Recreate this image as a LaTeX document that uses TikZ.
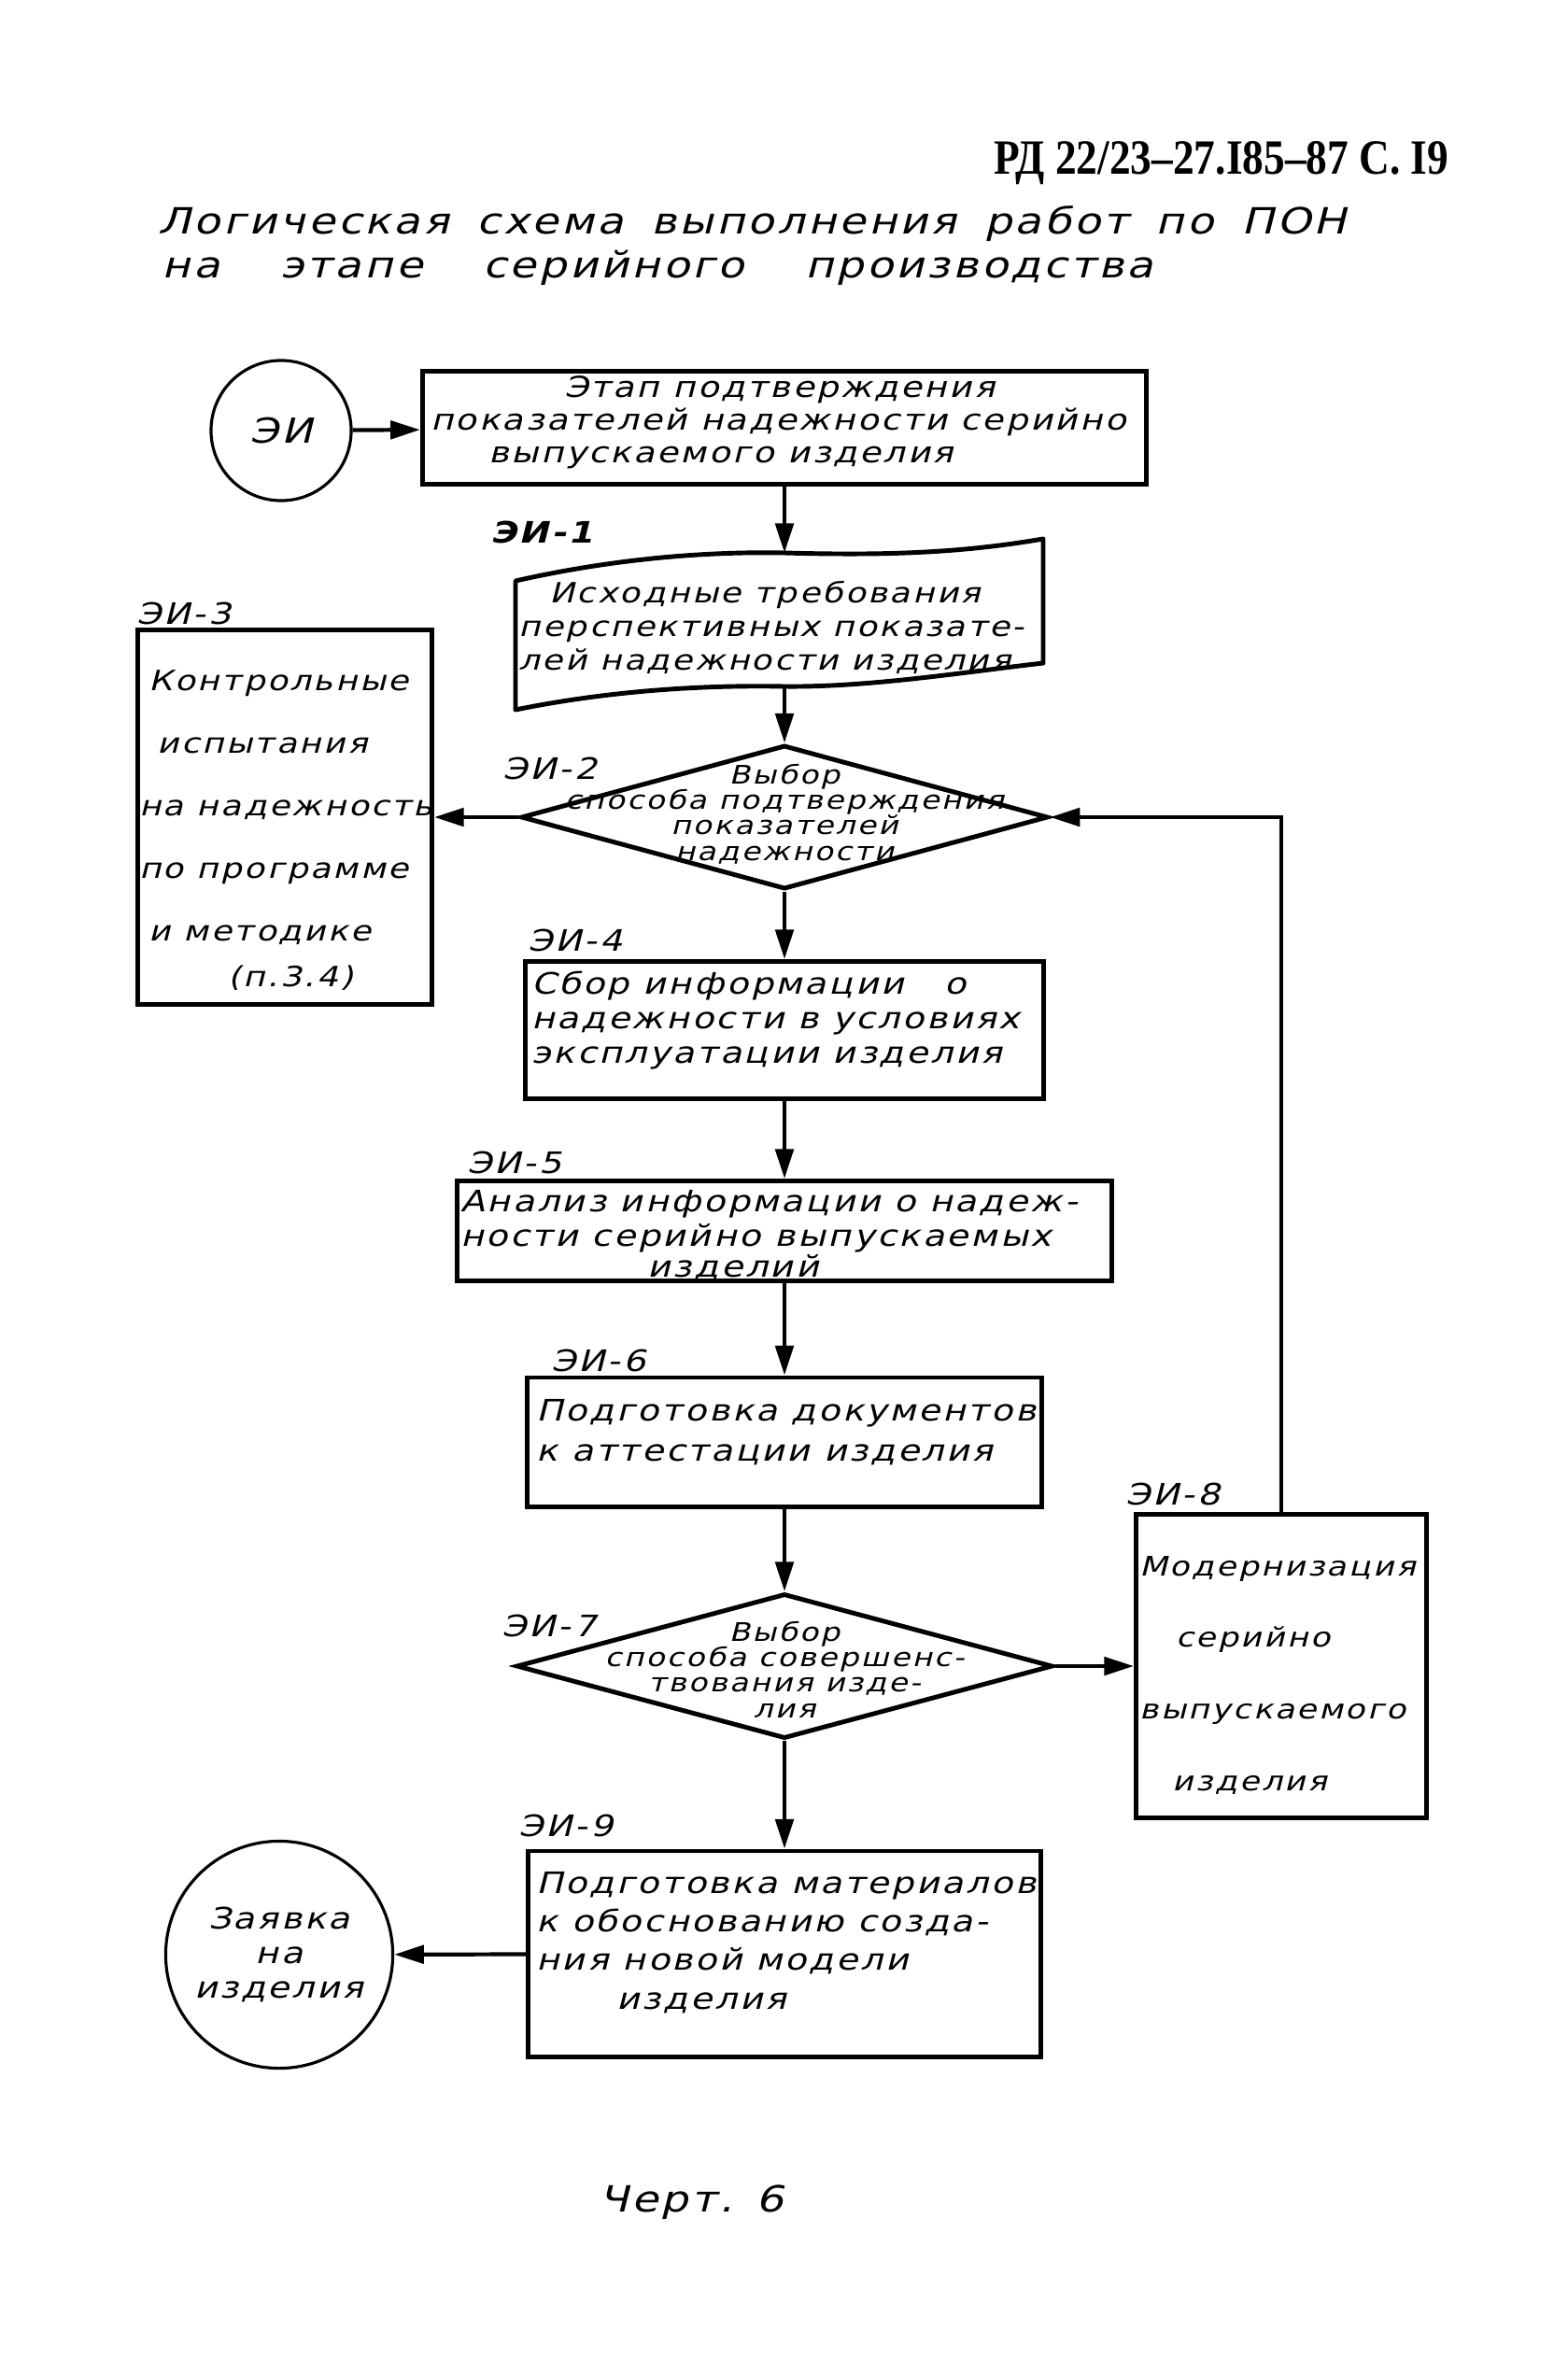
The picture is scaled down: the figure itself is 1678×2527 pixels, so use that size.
\documentclass[tikz,border=0pt]{standalone}
\usepackage{fontspec}
\usepackage{graphicx}
\usetikzlibrary{arrows.meta}
\usetikzlibrary{shapes.geometric}
\newfontfamily\hand{DejaVu Sans}[FakeSlant=0.25,FakeStretch=1.2,LetterSpace=8]
\newfontfamily\hdrfont{Liberation Serif}

\begin{document}
\begin{tikzpicture}[x=0.01cm, y=-0.01cm,
    box/.style={draw, line width=1.4pt, inner sep=0pt},
    btxt/.style={font=\hand\fontsize{9}{10.5}\selectfont, align=left, inner sep=0pt, anchor=west},
    dmd/.style={draw, diamond, line width=1.4pt, inner sep=0pt},
    dtxt/.style={font=\hand\fontsize{7.8}{7.8}\selectfont, align=center, inner sep=0pt},
    rnd/.style={draw, circle, line width=0.9pt, inner sep=0pt, align=center},
    tag/.style={font=\hand\fontsize{9}{10}\selectfont, inner sep=0pt},
    con/.style={line width=1.2pt, -{Triangle[length=9pt, width=5.5pt]}},
    shp/.style={line width=1.4pt, line join=round}]
    \useasboundingbox (0,0) rectangle (1678,2527);

    % header and title
    \node[inner sep=0pt, font=\hdrfont\bfseries\fontsize{15}{16}\selectfont] (hdr) at (1308,175)
        {\scalebox{0.86}[1]{РД 22/23–27.I85–87 С. I9}};
    \node[inner sep=0pt, anchor=base west, font=\hand\fontsize{11}{12}\selectfont] (ttl1) at (169,250)
        {\makebox[12.71cm][s]{Логическая схема выполнения работ по ПОН}};
    \node[inner sep=0pt, anchor=base west, font=\hand\fontsize{11}{12}\selectfont] (ttl2) at (173,297)
        {\makebox[10.61cm][s]{на этапе серийного производства}};

    % start
    \node[rnd, minimum size=1.5cm, font=\hand\fontsize{10.5}{12}\selectfont] (ei) at (301,461) {ЭИ};
    \node[box, minimum width=7.75cm, minimum height=1.21cm,
        label={[btxt, xshift=3pt, yshift=1.7pt, font=\hand\fontsize{8.8}{10}\selectfont]west:{\hspace*{1.43cm}Этап подтверждения\\показателей надежности серийно\\\hspace*{0.62cm}выпускаемого изделия}}] (b0) at (840,458) {};

    % ЭИ-1
    \node[tag, font=\hand\bfseries\fontsize{9}{10}\selectfont] (l1) at (580,570) {ЭИ-1};
    \draw[shp] (552,622) .. controls (640,602) and (740,590) .. (840,592)
        .. controls (950,595) and (1030,592) .. (1117,577) -- (1117,710)
        .. controls (1030,720) and (930,736) .. (840,735)
        .. controls (740,733) and (640,742) .. (552,760) -- cycle;
    \coordinate (d1in) at (840,592);
    \coordinate (d1out) at (840,735);
    \node[btxt, font=\hand\fontsize{8.5}{10.2}\selectfont] (t1) at (555,672)
        {\hspace*{0.33cm}Исходные требования\\перспективных показате-\\лей надежности изделия};

    % ЭИ-2
    \node[tag] (l2) at (589,823) {ЭИ-2};
    \node[dmd, minimum width=5.64cm, minimum height=1.54cm,
        label={[dtxt, yshift=1pt]center:{Выбор\\способа подтверждения\\показателей\\надежности}}] (d2) at (840,875) {};

    % ЭИ-3
    \node[tag] (l3) at (197,657) {ЭИ-3};
    \node[box, minimum width=3.15cm, minimum height=4cm,
        label={[btxt, xshift=1pt, yshift=-4pt, font=\hand\fontsize{8.5}{19}\selectfont]west:{\hspace*{3pt}Контрольные\\\hspace*{5.5pt}испытания\\на надежность\\по программе\\\hspace*{3pt}и методике\\[-5pt]\hspace*{27pt}(п.3.4)}}] (b3) at (305,875) {};

    % ЭИ-4
    \node[tag] (l4) at (616,1007) {ЭИ-4};
    \node[box, minimum width=5.54cm, minimum height=1.47cm,
        label={[btxt, xshift=2.3pt, yshift=3pt]west:{Сбор информации \ \ о\\надежности в условиях\\эксплуатации изделия}}] (b4) at (840,1103) {};

    % ЭИ-5
    \node[tag] (l5) at (551,1245) {ЭИ-5};
    \node[box, minimum width=7.0cm, minimum height=1.07cm,
        label={[btxt, xshift=1.5pt, yshift=-1.5pt]west:{Анализ информации о надеж-\\ности серийно выпускаемых\\[-1pt]\hspace*{2.0cm}изделий}}] (b5) at (840,1318) {};

    % ЭИ-6
    \node[tag] (l6) at (641,1457) {ЭИ-6};
    \node[box, minimum width=5.51cm, minimum height=1.38cm,
        label={[btxt, xshift=3.5pt, yshift=3pt, font=\hand\fontsize{9}{12.2}\selectfont]west:{Подготовка документов\\к аттестации изделия}}] (b6) at (840,1544) {};

    % ЭИ-7
    \node[tag] (l7) at (588,1741) {ЭИ-7};
    \node[dmd, minimum width=5.74cm, minimum height=1.55cm,
        label={[dtxt, yshift=-1pt]center:{Выбор\\способа совершенс-\\твования изде-\\лия}}] (d7) at (840,1784) {};

    % ЭИ-8
    \node[tag] (l8) at (1256,1600) {ЭИ-8};
    \node[box, minimum width=3.11cm, minimum height=3.25cm,
        label={[btxt, xshift=1.7pt, yshift=-2.7pt, font=\hand\fontsize{8.2}{21.8}\selectfont]west:{Модернизация\\\hspace*{11pt}серийно\\выпускаемого\\\hspace*{10pt}изделия}}] (b8) at (1372,1784) {};

    % ЭИ-9
    \node[tag] (l9) at (606,1955) {ЭИ-9};
    \node[box, minimum width=5.48cm, minimum height=2.2cm,
        label={[btxt, xshift=3pt, yshift=3.4pt, font=\hand\fontsize{9}{11.7}\selectfont]west:{Подготовка материалов\\к обоснованию созда-\\ния новой модели\\\hspace*{0.86cm}изделия}}] (b9) at (840,2092) {};

    % end
    \node[rnd, minimum size=2.43cm, font=\hand\fontsize{9}{10.5}\selectfont] (zv) at (299,2093) {Заявка\\на\\изделия};

    \node[inner sep=0pt, font=\hand\fontsize{11}{12}\selectfont] (cap) at (740,2358) {Черт. 6};

    % draw arrows
    \draw[con] (ei) -- (b0);
    \draw[con] (b0) -- (d1in);
    \draw[con] (d1out) -- (d2);
    \draw[con] (d2) -- (b3);
    \draw[con] (d2) -- (b4);
    \draw[con] (b4) -- (b5);
    \draw[con] (b5) -- (b6);
    \draw[con] (b6) -- (d7);
    \draw[con] (d7) -- (b8);
    \draw[con] (d7) -- (b9);
    \draw[con] (b9) -- (zv);
    \draw[con] (b8.north) |- (d2.east);
\end{tikzpicture}
\end{document}
